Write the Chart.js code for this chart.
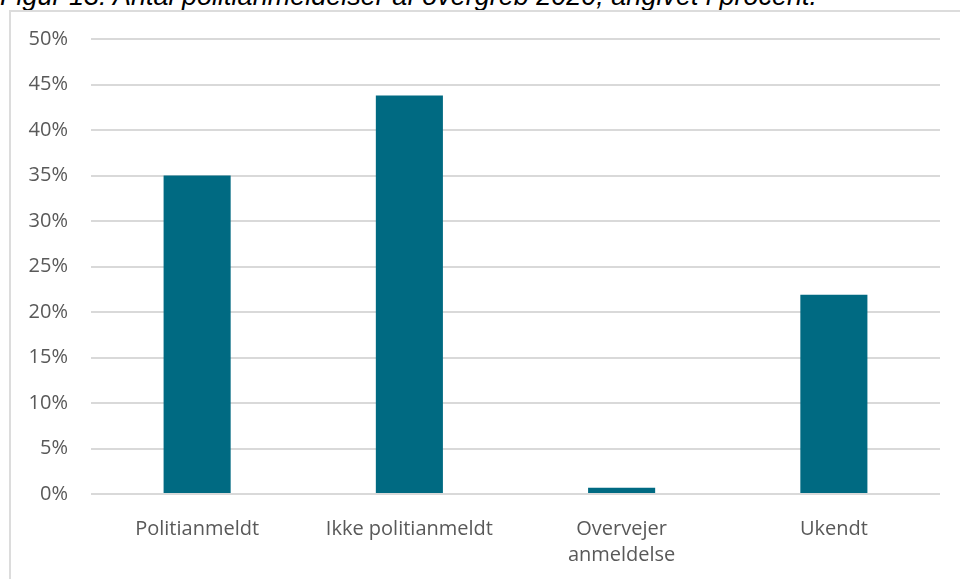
<!DOCTYPE html>
<html>
<head>
<meta charset="utf-8">
<script src="https://cdn.jsdelivr.net/npm/chart.js@4"></script>
<style>
  html, body { margin: 0; padding: 0; background: #fff; overflow: hidden; }
  #frame { position: absolute; left: 9px; top: 10px; width: 1000px; height: 1000px;
           border-left: 2px solid #dcdcdc; border-top: 2px solid #dcdcdc; }
  #title { position: absolute; left: 0; top: -17px; white-space: nowrap;
           font: italic 27px/27px "Liberation Sans", Arial, sans-serif; color: #000; }
  #wrap { position: absolute; left: 0; top: 0; width: 960px; height: 579px; }
</style>
</head>
<body>
<div id="title">Figur 13: Antal politianmeldelser af overgreb 2020, angivet i procent.</div>
<div id="frame"></div>
<div id="wrap"><canvas id="chart" width="960" height="579"></canvas></div>
<script>
// values (percent)
const categories = ['Politianmeldt', 'Ikke politianmeldt', ['Overvejer', 'anmeldelse'], 'Ukendt'];
const shares = [35.0, 43.8, 0.7, 21.9];
const yTicksMax = 50;
const yTicksStep = 5;

const barColor = '#006a82';
const gridColor = '#d9d9d9';
const labelColor = '#595959';

const ctx = document.getElementById('chart').getContext('2d');

const chart = new Chart(ctx, {
  type: 'bar',
  data: {
    labels: categories,
    datasets: [{
      data: shares,
      backgroundColor: barColor,
      borderWidth: 0,
      categoryPercentage: 1,
      barPercentage: 0.316
    }]
  },
  options: {
    responsive: false,
    animation: false,
    layout: { padding: { top: 39, right: 20, left: 0, bottom: 0 } },
    plugins: { legend: { display: false }, tooltip: { enabled: false } },
    scales: {
      x: {
        grid: { display: false, drawTicks: false },
        border: { display: false },
        ticks: {
          color: labelColor,
          font: { family: 'Open Sans', size: 20, lineHeight: 1.3 },
          padding: 22,
          maxRotation: 0
        },
        afterFit: function (scale) { scale.height = 85; }
      },
      y: {
        min: 0,
        max: yTicksMax,
        grid: { color: gridColor, lineWidth: 2, drawTicks: false },
        border: { display: false },
        ticks: {
          stepSize: yTicksStep,
          color: labelColor,
          font: { family: 'Open Sans', size: 20 },
          padding: 23,
          callback: function (v) { return v + '%'; }
        },
        afterFit: function (scale) { scale.width = 91; }
      }
    }
  }
});
</script>
</body>
</html>
